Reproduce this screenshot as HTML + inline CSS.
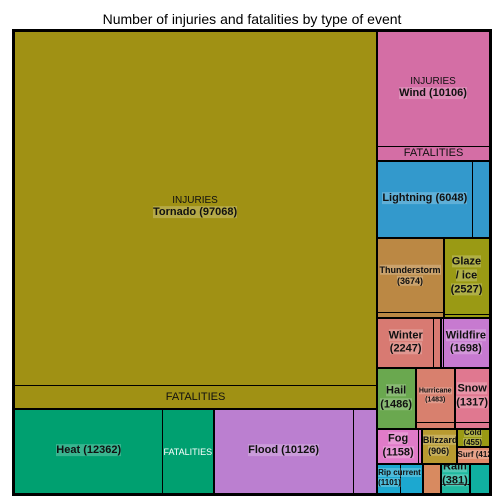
<!DOCTYPE html>
<html><head><meta charset="utf-8">
<style>
body{margin:0;background:#fff;font-family:"Liberation Sans",Arial,sans-serif;}
#wrap{position:relative;width:504px;height:504px;overflow:hidden;background:#fff;}
#title{position:absolute;left:0;top:11px;width:504px;text-align:center;font-size:14px;color:#000;}
#map{position:absolute;left:12px;top:29px;width:480px;height:467px;border:2px solid #000;box-sizing:border-box;background:#000;}
.cell{position:absolute;box-sizing:border-box;border:1.5px solid #000;overflow:hidden;}
.part{position:absolute;box-sizing:border-box;}
.lab{position:absolute;left:0;right:0;top:50%;transform:translateY(-50%);text-align:center;font-weight:bold;color:#111;line-height:1.25;}
.lab span{background:rgba(255,255,255,0.22);}
.ft{position:absolute;left:0;right:0;top:50%;transform:translateY(-50%);text-align:center;color:#111;font-size:11px;}
</style></head><body>
<div id="wrap">
<div id="title">Number of injuries and fatalities by type of event</div>
<div id="map"></div>
</div>
<script>
const names=["Tornado","Heat","Flood","Wind","Lightning","Thunderstorm","Glaze / ice","Winter","Wildfire","Hail","Hurricane","Snow","Fog","Blizzard","Cold","Surf","Rip current","Dust","Rain","Other"];
const totals=[94800,11670,9560,10106,6048,3674,2527,2247,1698,1630,1630,1450,1070,830,420,380,970,370,610,420];
const fatalShare=[0.06,0.25,0.14,0.10,0.15,0.05,0.03,0.10,0.03,0,0.08,0.08,0.04,0,0,0,0.5,0,0.3,0];
const colors=["#a09114","#00a070","#bb7fd0","#d46ea5","#3399cc","#bb8844","#9a9a14","#d87a72","#c77ad0","#6aa84f","#d8806e","#e07890","#e07bc8","#b89a30","#9a9a14","#e08a6a","#1ca8d0","#d88a60","#20b8a0","#10b0a0"];
const labels=["Tornado (97068)","Heat (12362)","Flood (10126)","Wind (10106)","Lightning (6048)","Thunderstorm<br>(3674)","Glaze<br>/ ice<br>(2527)","Winter<br>(2247)","Wildfire<br>(1698)","Hail<br>(1486)","Hurricane<br>(1483)","Snow<br>(1317)","Fog<br>(1158)","Blizzard<br>(906)","Cold<br>(455)","Surf (412)","Rip current<br>(1101)","","Rain<br>(381)",""];
const fontSizes=[11,11,11,11,11,9,11,11,11,11,7,11,11,9,8,8,8,9,11,9];
const fatDir=["b","r","r","b","r","b","b","r","l","b","b","b","r","b","b","b","r","b","b","b"];
const tree={d:"h",c:[
 {d:"v",c:[0,{d:"h",c:[1,2]}]},
 {d:"v",c:[3,4,{d:"h",c:[5,6]},{d:"h",c:[7,8]},{d:"h",c:[9,10,11]},{d:"h",c:[12,13,{d:"v",c:[14,15]}]},{d:"h",c:[16,17,18,19]}]}
]};
function sum(n){return typeof n==="number"?totals[n]:n.c.reduce((a,b)=>a+sum(b),0);}
const map=document.getElementById('map');
function slug(s){return s.toLowerCase().replace(/[^a-z]+/g,'-').replace(/-$/,'');}
function place(n,x,y,w,h){
 if(typeof n==="number"){draw(n,x,y,w,h);return;}
 const tot=sum(n);let off=0;
 n.c.forEach(ch=>{const f=sum(ch)/tot;
  if(n.d==="h"){place(ch,x+off,y,w*f,h);off+=w*f;}else{place(ch,x,y+off,w,h*f);off+=h*f;}});
}
function draw(i,x,y,w,h){
 const d=document.createElement('div');d.className='cell';
 
 
 d.style.cssText=`left:${x}px;top:${y}px;width:${w}px;height:${h}px;background:${colors[i]}`;
 const fs=fatalShare[i];let ix=0,iy=0,iw=w-3,ih=h-3;
 if(fs>0){
  const f=document.createElement('div');f.className='part';
  
  
  const dir=fatDir[i];
  if(dir==="b"){const fh=ih*fs;ih-=fh;f.style.cssText=`left:0;top:${ih}px;width:100%;height:${fh}px;border-top:1px solid #000`;}
  else if(dir==="r"){const fw=iw*fs;iw-=fw;f.style.cssText=`left:${iw}px;top:0;width:${fw}px;height:100%;border-left:1px solid #000`;}
  else {const fw=iw*fs;iw-=fw;ix=fw;f.style.cssText=`left:0;top:0;width:${fw}px;height:100%;border-right:1px solid #000`;}
  if(i===0||i===1||i===3){const t=document.createElement('div');t.className='ft';t.textContent='FATALITIES';
   if(i===1){t.style.color='#fff';t.style.fontSize='9px';}
   f.appendChild(t);}
  d.appendChild(f);
 }
 if(labels[i]){
  const box=document.createElement('div');box.className='part';
  box.style.cssText=`left:${ix}px;top:${iy}px;width:${iw}px;height:${ih}px`;
  const l=document.createElement('div');l.className='lab';l.style.fontSize=fontSizes[i]+'px';
  
  
  let pre=(i===0||i===3)?'<div style="font-weight:normal;font-size:10px;line-height:1">INJURIES</div>':'';
  l.innerHTML=pre+'<span style="white-space:nowrap">'+labels[i]+'</span>';
  box.appendChild(l);d.appendChild(box);
 }
 map.appendChild(d);
}
place(tree,0,0,476,463);
</script>
</body></html>
